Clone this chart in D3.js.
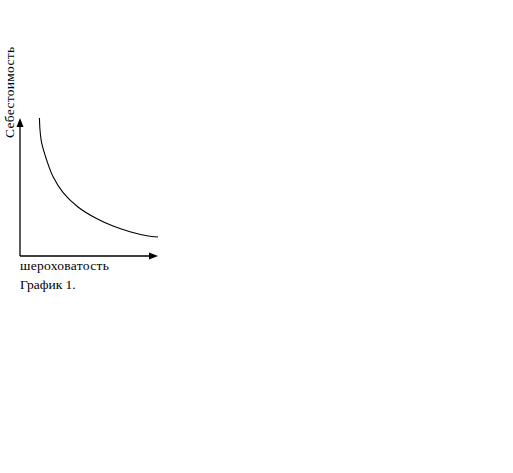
<!DOCTYPE html>
<html>
<head>
<meta charset="utf-8">
<script src="https://cdn.jsdelivr.net/npm/d3@7"></script>
<style>
  body { margin: 0; background: #fff; }
  text { font-family: "Liberation Serif", "Times New Roman", serif; fill: #000; }
</style>
</head>
<body>
<div id="chart"></div>
<script>
// curve values (relative units 0..100)
var xValues = [14.1, 14.5, 15.7, 19.3, 24.1, 31.4, 42, 55.1, 67.4, 79.7, 92, 100];
var yValues = [100, 91.3, 81.9, 69.6, 57.2, 45.7, 35.5, 27.3, 21.7, 17.6, 14.7, 13.8];
var yTitle = "Себестоимость";
var xTitle = "шероховатость";
var caption = "График 1.";

var width = 513, height = 473;
var x = d3.scaleLinear().domain([0, 100]).range([20, 158]);
var y = d3.scaleLinear().domain([0, 100]).range([256, 118]);

var svg = d3.select("#chart").append("svg")
    .attr("width", width)
    .attr("height", height);

var data = xValues.map((d, i) => ({x: d, y: yValues[i]}));

// axes with arrow heads
svg.append("line")
    .attr("x1", x(0)).attr("y1", y(0))
    .attr("x2", x(0)).attr("y2", y(100) + 6)
    .attr("stroke", "#000").attr("stroke-width", 1.3);
svg.append("line")
    .attr("x1", x(0)).attr("y1", y(0))
    .attr("x2", x(100) - 6).attr("y2", y(0))
    .attr("stroke", "#000").attr("stroke-width", 1.3);
svg.append("path")
    .attr("d", `M${x(0)},${y(100)}l-3.5,9h7z`)
    .attr("fill", "#000");
svg.append("path")
    .attr("d", `M${x(100)},${y(0)}l-9,-3.5v7z`)
    .attr("fill", "#000");

var line = d3.line()
    .x(d => x(d.x))
    .y(d => y(d.y))
    .curve(d3.curveCatmullRom);

svg.append("path")
    .datum(data)
    .attr("fill", "none")
    .attr("stroke", "#000")
    .attr("stroke-width", 1.1)
    .attr("d", line);

svg.append("text")
    .attr("transform", `translate(14,138) rotate(-90)`)
    .attr("font-size", 13.5)
    .attr("letter-spacing", 0.3)
    .text(yTitle);

svg.append("text")
    .attr("x", 20).attr("y", 270)
    .attr("font-size", 13.5)
    .attr("letter-spacing", 0.3)
    .text(xTitle);

svg.append("text")
    .attr("x", 20).attr("y", 289)
    .attr("font-size", 13.5)
    .text(caption);
</script>
</body>
</html>
